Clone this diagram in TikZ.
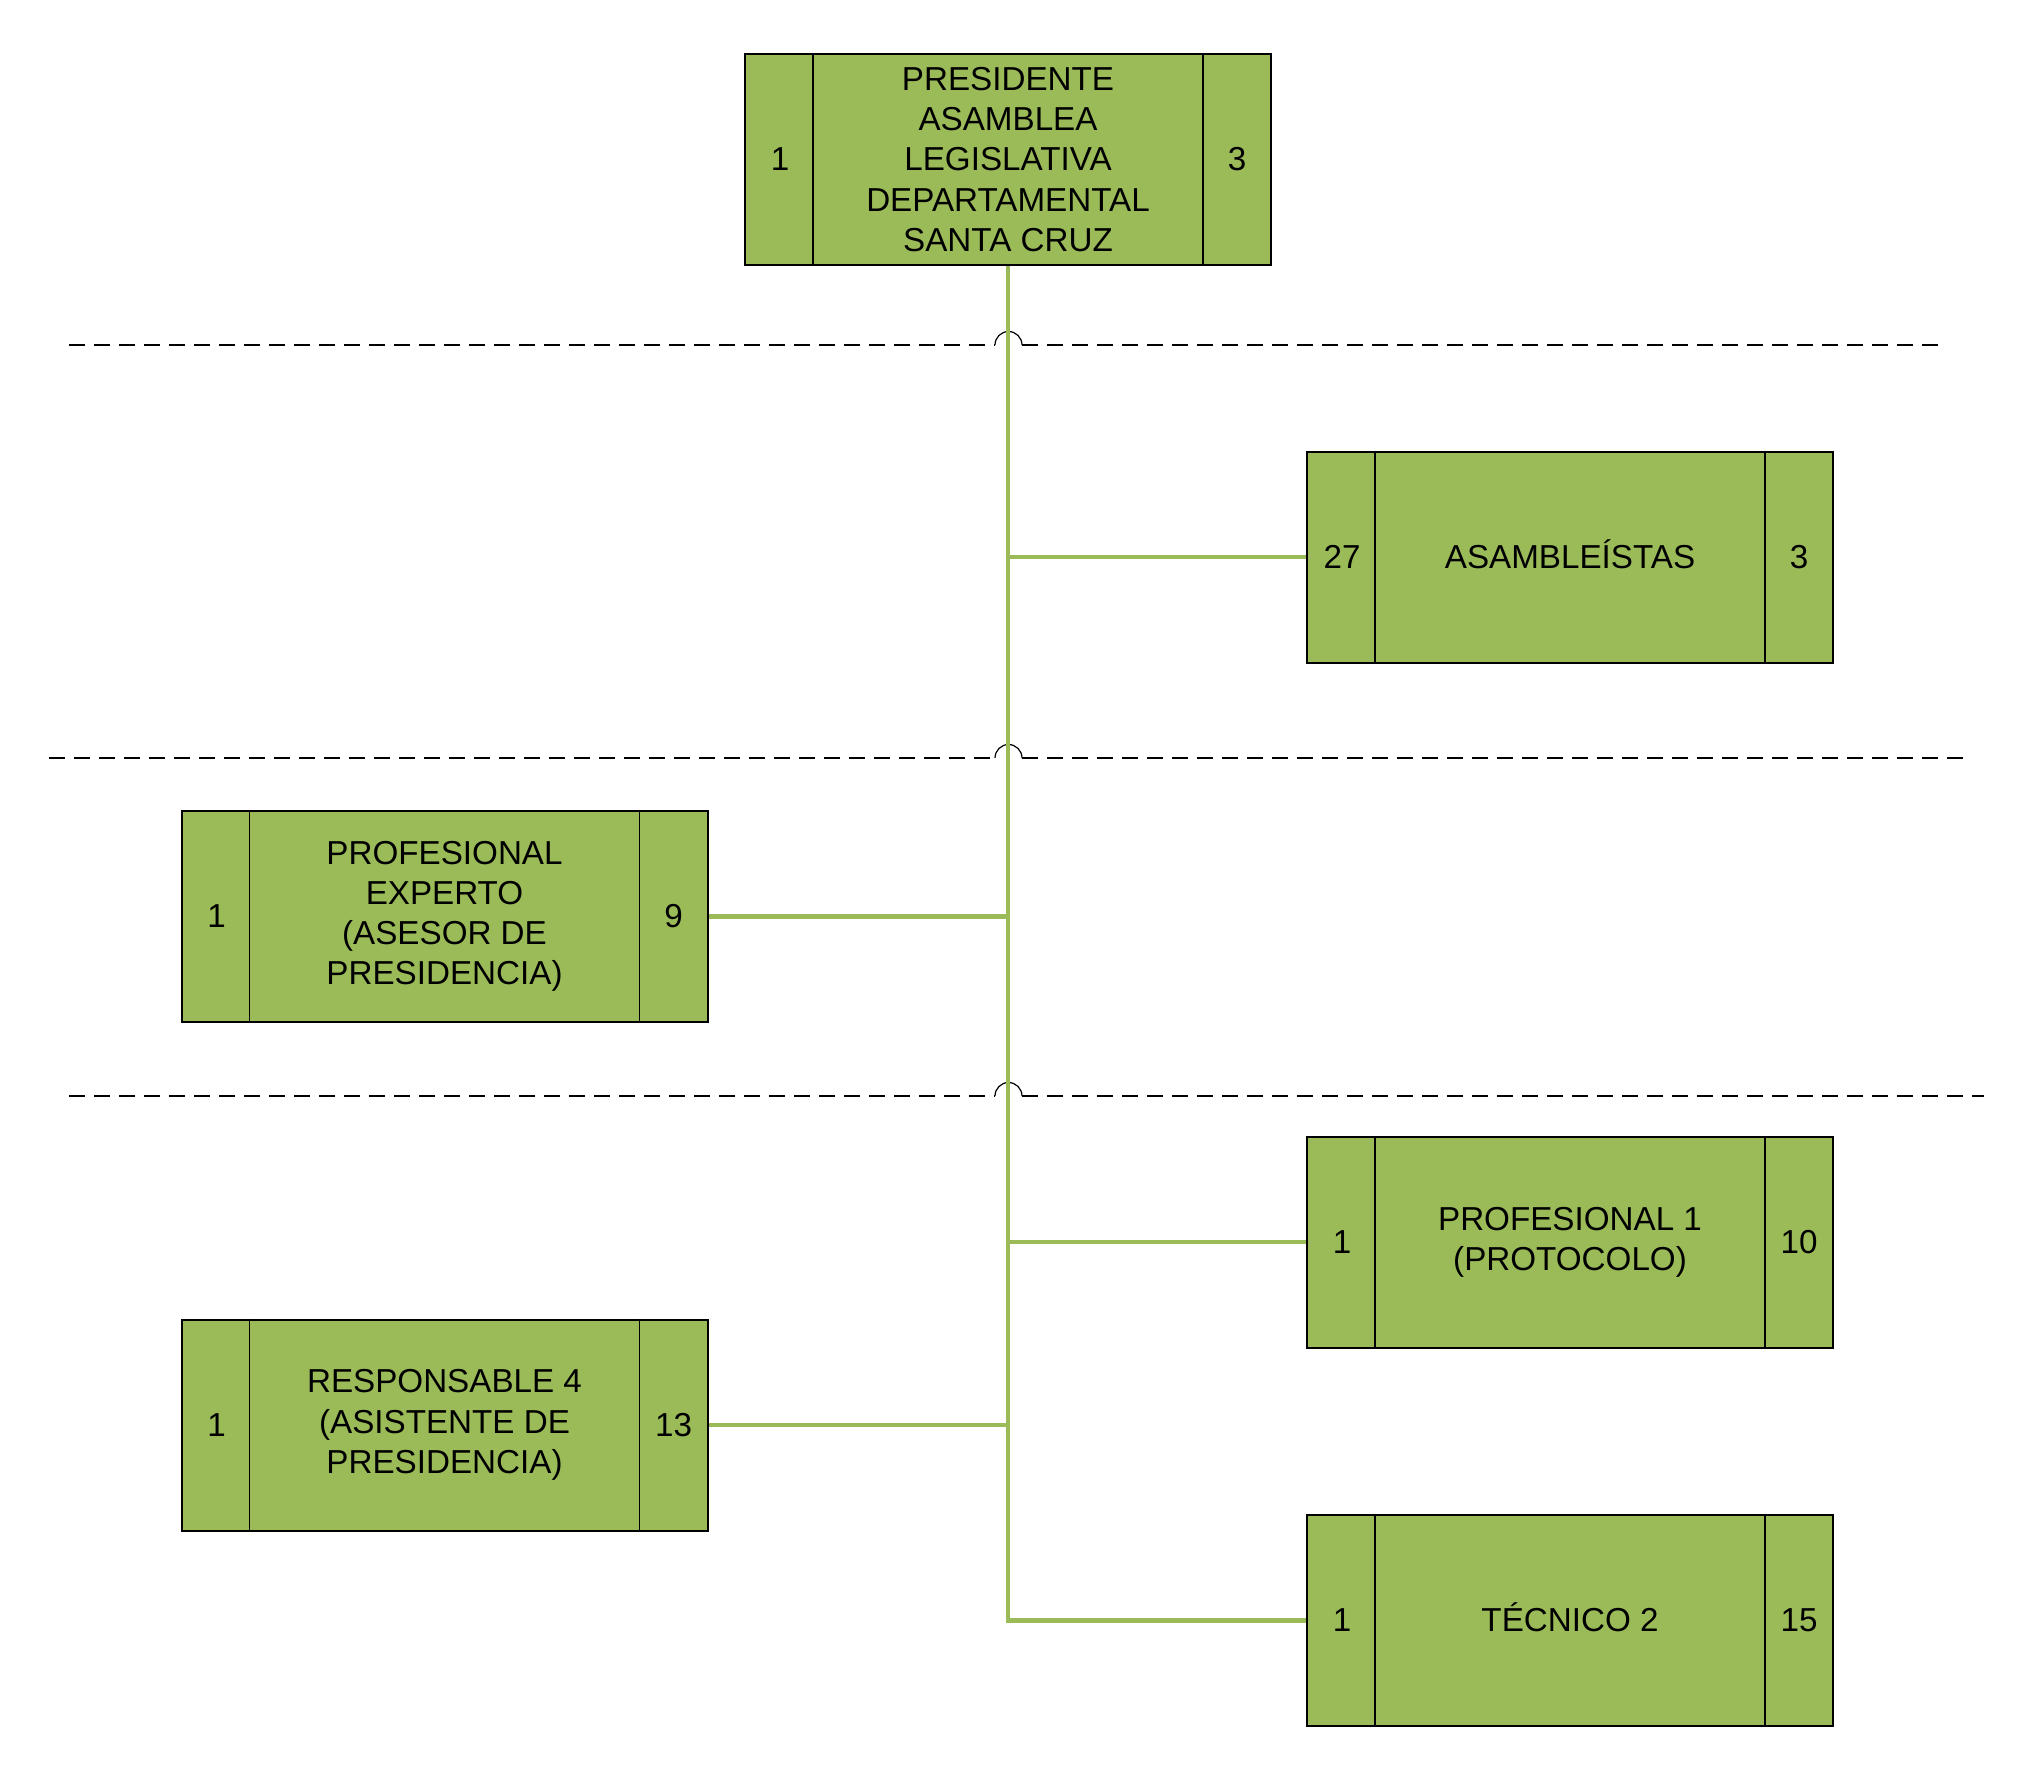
\documentclass[tikz,border=0pt]{standalone}
\usepackage{fontspec}
\setmainfont{Liberation Sans}
\definecolor{olive}{HTML}{9BBB59}
\tikzset{
  orgbox/.style={draw=black, line width=1pt, fill=olive, minimum width=263pt, minimum height=105.5pt, inner sep=0pt},
  divider/.style={draw=black, line width=0.65pt},
  boxtext/.style={align=center, font=\fontsize{16.6}{20.1}\selectfont, inner sep=0pt},
  conn/.style={draw=olive, line width=2.25pt},
  sep/.style={draw=black, line width=0.55pt, dash pattern=on 7.75pt off 4.75pt},
  jump/.style={draw=black, line width=0.6pt},
}
\newcommand{\orgbox}[7]{%
  \node[orgbox] (#1) at (#2,#3) {};
  \draw[divider] ([xshift=34.5pt]#1.north west) -- ([xshift=34.5pt]#1.south west);
  \draw[divider] ([xshift=-34.5pt]#1.north east) -- ([xshift=-34.5pt]#1.south east);
  \node[boxtext] (#1-l) at ([xshift=18pt]#1.west) {#4};
  \node[boxtext] (#1-c) at (#1.center) {#5};
  \node[boxtext] (#1-r) at ([xshift=-17.5pt]#1.east) {#6};
}
\begin{document}
\begin{tikzpicture}[x=0.5pt, y=-0.5pt]
\useasboundingbox[fill=white] (0,0) rectangle (2032,1790);

% separator lines
\coordinate (s1a) at (69,345);   \coordinate (s1b) at (1946,345);
\coordinate (s2a) at (49,758);   \coordinate (s2b) at (1965,758);
\coordinate (s3a) at (69,1096);  \coordinate (s3b) at (1984,1096);
\draw[sep] (s1a) -- (995,345);  \draw[sep] (1022,345) -- (s1b);
\draw[sep] (s2a) -- (995,758);  \draw[sep] (1022,758) -- (s2b);
\draw[sep] (s3a) -- (995,1096); \draw[sep] (1022,1096) -- (s3b);
\draw[jump] (995,345) arc[start angle=180, end angle=360, radius=13.5];
\draw[jump] (995,758) arc[start angle=180, end angle=360, radius=13.5];
\draw[jump] (995,1096) arc[start angle=180, end angle=360, radius=13.5];

% boxes
\orgbox{top}{1008}{159.5}{1}{PRESIDENTE\\ASAMBLEA\\LEGISLATIVA\\DEPARTAMENTAL\\SANTA CRUZ}{3}{}
\orgbox{asam}{1570}{557}{27}{ASAMBLE\smash{Í}STAS}{3}{}
\orgbox{pexp}{444.5}{916.5}{1}{PROFESIONAL\\EXPERTO\\(ASESOR DE\\PRESIDENCIA)}{9}{}
\orgbox{prof}{1570}{1242}{1}{PROFESIONAL 1\\(PROTOCOLO)}{10}{}
\orgbox{resp}{444.5}{1425}{1}{RESPONSABLE 4\\(ASISTENTE DE\\PRESIDENCIA)}{13}{}
\orgbox{tec}{1570}{1620.5}{1}{T\smash{É}CNICO 2}{15}{}

% connectors
\draw[conn] (top.south) -- (top.south |- tec.west) -- (tec.west);
\draw[conn] (top.south |- asam.west) -- (asam.west);
\draw[conn] (pexp.east) -- (pexp.east -| top.south);
\draw[conn] (top.south |- prof.west) -- (prof.west);
\draw[conn] (resp.east) -- (resp.east -| top.south);
\end{tikzpicture}
\end{document}
